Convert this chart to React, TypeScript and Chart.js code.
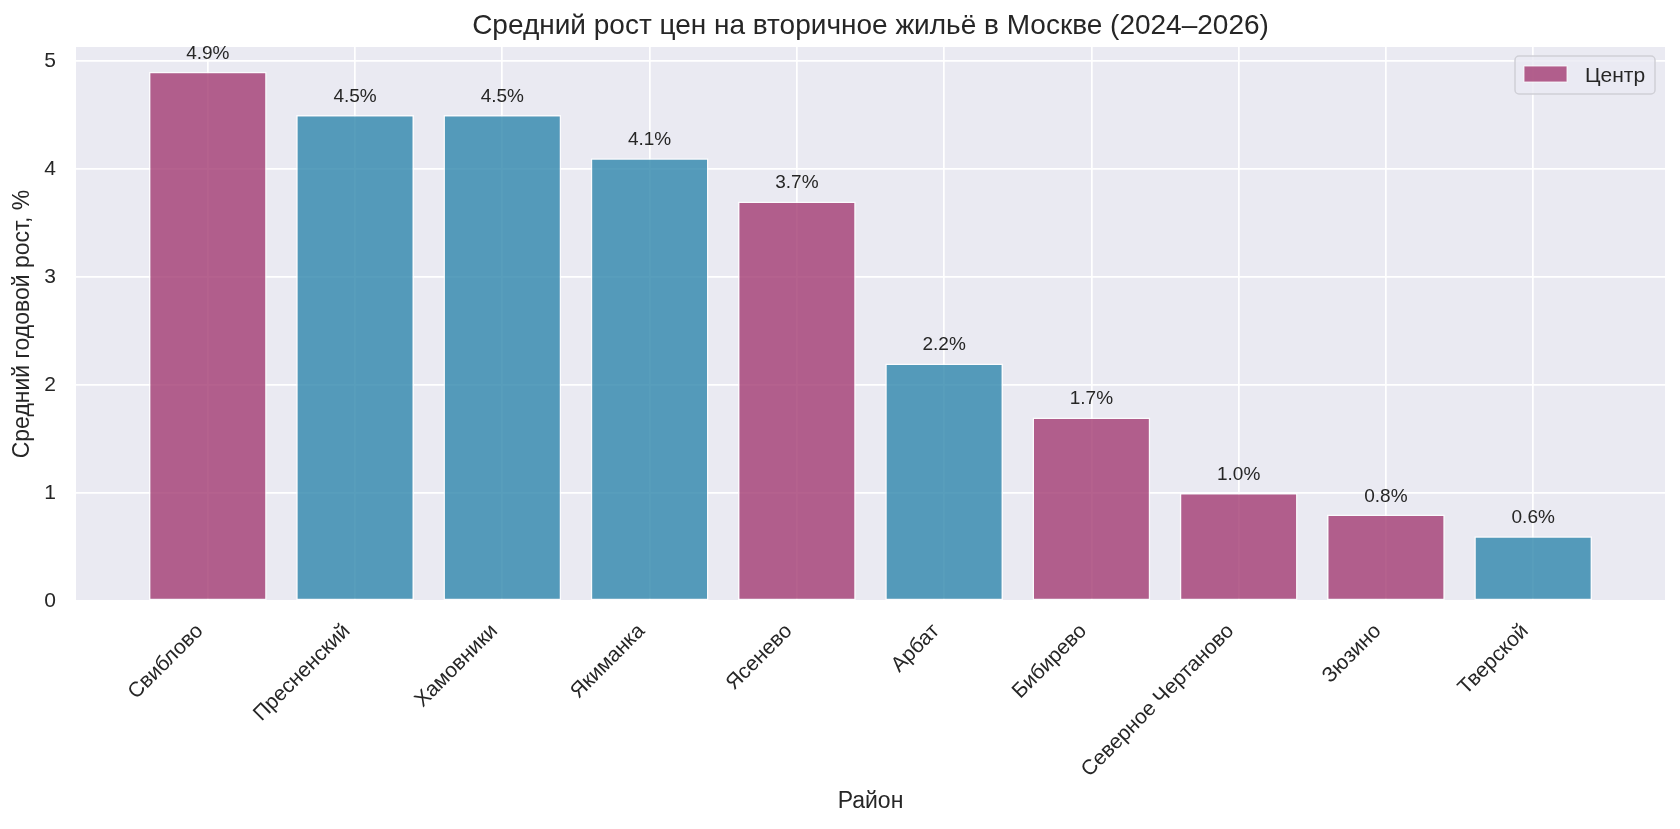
import React, { useEffect, useRef } from "react";
import { Chart, registerables } from "chart.js";

Chart.register(...registerables);

const districts = [
  "Свиблово",
  "Пресненский",
  "Хамовники",
  "Якиманка",
  "Ясенево",
  "Арбат",
  "Бибирево",
  "Северное Чертаново",
  "Зюзино",
  "Тверской",
];
const growth = [4.9, 4.5, 4.5, 4.1, 3.7, 2.2, 1.7, 1.0, 0.8, 0.6];
const isCenter = [false, true, true, true, false, true, false, false, false, true];
const yTicks = [0, 1, 2, 3, 4, 5];
const legendLabel = "Центр";

const MAGENTA = "rgba(162, 59, 114, 0.8)";
const BLUE = "rgba(46, 134, 171, 0.8)";
const INK = "#262626";
const FONT = "'Liberation Sans', Arial, sans-serif";

// seaborn-like grey plot area
const plotBackground = {
  id: "plotBackground",
  beforeDraw(chart: any) {
    const { ctx, chartArea: a } = chart;
    ctx.save();
    ctx.fillStyle = "#EAEAF2";
    ctx.fillRect(a.left, a.top, a.right - a.left, a.bottom - a.top);
    ctx.restore();
  },
};

// "4.9%" labels above the bars
const barValues = {
  id: "barValues",
  afterDatasetsDraw(chart: any) {
    const { ctx } = chart;
    const meta = chart.getDatasetMeta(0);
    ctx.save();
    ctx.font = `19px ${FONT}`;
    ctx.fillStyle = INK;
    ctx.textAlign = "center";
    ctx.textBaseline = "alphabetic";
    meta.data.forEach((bar: any, i: number) => {
      ctx.fillText(growth[i].toFixed(1) + "%", bar.x, bar.y - 13);
    });
    ctx.restore();
  },
};

// legend box inside the plot, top right
const boxLegend = {
  id: "boxLegend",
  afterDraw(chart: any) {
    const { ctx, chartArea: a } = chart;
    ctx.save();
    const w = 140;
    const h = 38;
    const left = a.right - 10 - w;
    const top = a.top + 9;
    ctx.beginPath();
    ctx.roundRect(left, top, w, h, 4);
    ctx.fillStyle = "rgba(234, 234, 242, 0.8)";
    ctx.fill();
    ctx.strokeStyle = "#cfcfd6";
    ctx.lineWidth = 1.5;
    ctx.stroke();

    ctx.fillStyle = MAGENTA;
    ctx.fillRect(left + 9, top + 10, 43, 16);
    ctx.strokeStyle = "rgba(255,255,255,0.8)";
    ctx.lineWidth = 1;
    ctx.strokeRect(left + 9, top + 10, 43, 16);

    ctx.font = `21px ${FONT}`;
    ctx.fillStyle = INK;
    ctx.textAlign = "left";
    ctx.textBaseline = "middle";
    ctx.fillText(legendLabel, left + 70, top + h / 2 + 1);
    ctx.restore();
  },
};

const GrowthChart = () => {
  const canvasRef = useRef<HTMLCanvasElement | null>(null);

  useEffect(() => {
    const canvas = canvasRef.current;
    if (!canvas) return;

    const chart = new Chart(canvas, {
      type: "bar",
      data: {
        datasets: [
          {
            label: legendLabel,
            data: districts.map((_, i) => ({ x: i, y: growth[i] })),
            backgroundColor: isCenter.map((c) => (c ? BLUE : MAGENTA)),
            borderColor: "rgba(255, 255, 255, 0.8)",
            borderWidth: 1.5,
            borderSkipped: false,
            categoryPercentage: 1,
            barPercentage: 0.8,
          },
        ],
      },
      options: {
        animation: false,
        responsive: true,
        maintainAspectRatio: false,
        layout: { padding: { left: 0, right: 15, top: 0, bottom: 0 } },
        plugins: {
          legend: { display: false },
          tooltip: { enabled: false },
          title: {
            display: true,
            fullSize: false,
            text: "Средний рост цен на вторичное жильё в Москве (2024–2026)",
            color: INK,
            font: { family: FONT, size: 28, weight: "normal", lineHeight: 1.2 },
            padding: { top: 9.2, bottom: 4.2 },
          },
        },
        scales: {
          x: {
            type: "linear",
            min: -0.895,
            max: 9.895,
            bounds: "data",
            offset: false,
            afterBuildTicks: (s: any) => {
              s.ticks = districts.map((_, i) => ({ value: i }));
            },
            afterFit: (s: any) => {
              s.height = 228;
            },
            ticks: {
              callback: (v: any) => districts[v] ?? "",
              autoSkip: false,
              minRotation: 45,
              maxRotation: 45,
              padding: 18,
              labelOffset: -8,
              color: INK,
              font: { family: FONT, size: 21 },
            },
            grid: { color: "#ffffff", lineWidth: 1.7, drawTicks: false, offset: false },
            border: { display: false },
            title: {
              display: true,
              text: "Район",
              color: INK,
              font: { family: FONT, size: 23, lineHeight: 1.2 },
              padding: { top: 0, bottom: 13.2 },
            },
          },
          y: {
            min: 0,
            max: 5.13,
            bounds: "data",
            afterBuildTicks: (s: any) => {
              s.ticks = yTicks.map((v) => ({ value: v }));
            },
            afterFit: (s: any) => {
              s.width = 76;
            },
            ticks: {
              padding: 20,
              color: INK,
              font: { family: FONT, size: 21 },
            },
            grid: { color: "#ffffff", lineWidth: 1.7, drawTicks: false },
            border: { display: false },
            title: {
              display: true,
              text: "Средний годовой рост, %",
              color: INK,
              font: { family: FONT, size: 23, lineHeight: 1.2 },
              padding: { top: 9.2, bottom: 0 },
            },
          },
        },
      },
      plugins: [plotBackground, barValues, boxLegend],
    } as any);

    return () => {
      chart.destroy();
    };
  }, []);

  return <canvas ref={canvasRef} />;
};

export default function App() {
  useEffect(() => {
    document.body.style.margin = "0";
  }, []);

  return (
    <div style={{ width: 1680, height: 829, position: "relative" }}>
      <GrowthChart />
    </div>
  );
}
